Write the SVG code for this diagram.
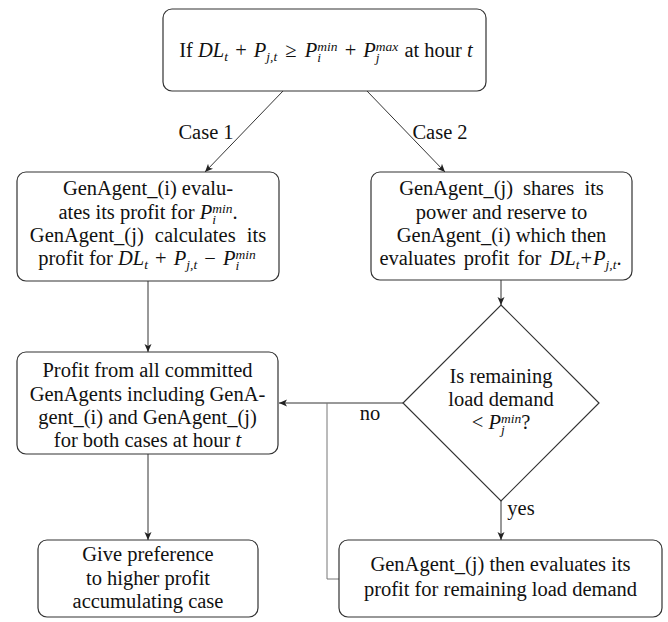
<svg xmlns="http://www.w3.org/2000/svg" width="668" height="622" viewBox="0 0 668 622" font-family="'Liberation Serif', 'Times New Roman', serif">
<defs>
<marker id="arr" markerWidth="10" markerHeight="8" refX="8" refY="4" orient="auto" markerUnits="userSpaceOnUse">
<path d="M0,0.5 L8,4 L0,7.5 L2,4 Z" fill="#222"/>
</marker>
<style>
text{font-family:"Liberation Serif","Times New Roman",serif;font-size:20.5px;fill:#111;text-anchor:middle}
.i{font-style:italic}
.s{font-size:13.5px;font-style:italic}
.box{fill:#fff;stroke:#333;stroke-width:1.2}
.ln{fill:none;stroke:#333;stroke-width:1}
</style>
</defs>
<rect width="668" height="622" fill="#fff"/>
<g id="connectors">
<line class="ln" x1="283" y1="91" x2="205" y2="172" marker-end="url(#arr)"/>
<line class="ln" x1="367" y1="91" x2="445" y2="172" marker-end="url(#arr)"/>
<line class="ln" x1="148" y1="281" x2="148" y2="352" marker-end="url(#arr)"/>
<line class="ln" x1="501" y1="280" x2="501" y2="305" marker-end="url(#arr)"/>
<line class="ln" x1="403" y1="403" x2="279" y2="403" marker-end="url(#arr)"/>
<polyline class="ln" points="327,403 327,579 339,579" style="stroke:#777"/>
<line class="ln" x1="501" y1="501" x2="501" y2="540" marker-end="url(#arr)"/>
<line class="ln" x1="148" y1="454" x2="148" y2="540" marker-end="url(#arr)"/>
<text x="206" y="139">Case 1</text>
<text x="440" y="139">Case 2</text>
<text x="370" y="420">no</text>
<text x="521" y="515">yes</text>
</g>
<g id="start">
<rect class="box" x="163" y="9" width="323" height="82" rx="9"/>
<text x="326" y="57">If <tspan class="i">DL</tspan><tspan class="s" dy="4">t</tspan><tspan dy="-4" dx="2"> + </tspan><tspan class="i" dx="2">P</tspan><tspan class="s" dy="4">j,t</tspan><tspan dy="-4" dx="3"> ≥ </tspan><tspan class="i" dx="3">P</tspan><tspan class="s" dy="5">i</tspan><tspan class="s" dx="-3.8" dy="-11.5">min</tspan><tspan dy="6.5" dx="2"> + </tspan><tspan class="i" dx="2">P</tspan><tspan class="s" dy="5">j</tspan><tspan class="s" dx="-3.8" dy="-11.5">max</tspan><tspan dy="6.5" dx="1"> at hour </tspan><tspan class="i">t</tspan></text>
</g>
<g id="case1">
<rect class="box" x="17" y="172" width="262" height="109" rx="9"/>
<text x="148" y="195">GenAgent_(i) evalu-</text>
<text x="148" y="219">ates its profit for <tspan class="i">P</tspan><tspan class="s" dy="5">i</tspan><tspan class="s" dx="-3.8" dy="-11.5">min</tspan><tspan dy="6.5">.</tspan></text>
<text x="148" y="242" style="word-spacing:6px">GenAgent_(j) calculates its</text>
<text x="147" y="265">profit for <tspan class="i">DL</tspan><tspan class="s" dy="4">t</tspan><tspan dy="-4" dx="2"> + </tspan><tspan class="i" dx="2">P</tspan><tspan class="s" dy="4">j,t</tspan><tspan dy="-4" dx="2"> − </tspan><tspan class="i" dx="2">P</tspan><tspan class="s" dy="5">i</tspan><tspan class="s" dx="-3.8" dy="-11.5">min</tspan></text>
</g>
<g id="case2">
<rect class="box" x="371" y="172" width="261" height="108" rx="9"/>
<text x="501.5" y="195" style="word-spacing:5px">GenAgent_(j) shares its</text>
<text x="501.5" y="219">power and reserve to</text>
<text x="501.5" y="242">GenAgent_(i) which then</text>
<text x="500.5" y="265" style="word-spacing:3px">evaluates profit for <tspan class="i">DL</tspan><tspan class="s" dy="4">t</tspan><tspan dy="-4" dx="1">+</tspan><tspan class="i" dx="1">P</tspan><tspan class="s" dy="4">j,t</tspan><tspan dy="-4">.</tspan></text>
</g>
<g id="decision">
<polygon class="box" points="501,305 599,403 501,501 403,403"/>
<text x="501" y="383">Is remaining</text>
<text x="501" y="406">load demand</text>
<text x="501" y="429">&lt; <tspan class="i">P</tspan><tspan class="s" dy="5">j</tspan><tspan class="s" dx="-3.8" dy="-11.5">min</tspan><tspan dy="6.5">?</tspan></text>
</g>
<g id="profit">
<rect class="box" x="17" y="352" width="261" height="102" rx="9"/>
<text x="147.5" y="377">Profit from all committed</text>
<text x="147.5" y="401">GenAgents including GenA-</text>
<text x="147.5" y="424">gent_(i) and GenAgent_(j)</text>
<text x="147.5" y="447">for both cases at hour <tspan class="i">t</tspan></text>
</g>
<g id="preference">
<rect class="box" x="38" y="540" width="220" height="77" rx="9"/>
<text x="148" y="561">Give preference</text>
<text x="148" y="585">to higher profit</text>
<text x="148" y="608">accumulating case</text>
</g>
<g id="remaining">
<rect class="box" x="339" y="540" width="323" height="77" rx="9"/>
<text x="500.5" y="571">GenAgent_(j) then evaluates its</text>
<text x="500.5" y="596">profit for remaining load demand</text>
</g>
</svg>
